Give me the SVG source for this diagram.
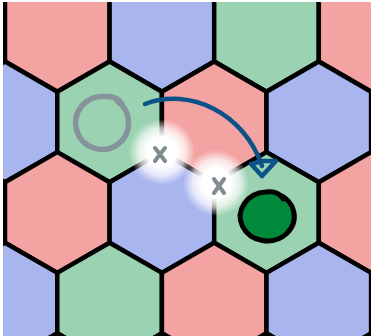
<svg xmlns="http://www.w3.org/2000/svg" width="371" height="336" viewBox="0 0 371 336">
  <style>
    .hex { stroke: #000; stroke-width: 4.5; stroke-linejoin: round; }
    .red { fill: #f4a3a3; }
    .blue { fill: #a9b5ef; }
    .green { fill: #9bd3b2; }
    .xmark { fill: none; stroke: #7f8c90; stroke-width: 4; stroke-linecap: round; }
  </style>
  <defs>
    <clipPath id="board">
      <rect x="3" y="2" width="368" height="334"/>
    </clipPath>
    <radialGradient id="glow">
      <stop offset="0" stop-color="#fff" stop-opacity="1"/>
      <stop offset="0.45" stop-color="#fff" stop-opacity="1"/>
      <stop offset="0.72" stop-color="#fff" stop-opacity="0.7"/>
      <stop offset="1" stop-color="#fff" stop-opacity="0"/>
    </radialGradient>
  </defs>

  <rect width="371" height="336" fill="#fff"/>

  <g clip-path="url(#board)">
    <!-- row above the top edge -->
    <g id="hex-r0-c0" class="hex blue"><polygon points="5,-119.7 57.3,-89.5 57.3,-29.1 5,1.1 -47.3,-29.1 -47.3,-89.5"/></g>
    <g id="hex-r0-c1" class="hex green"><polygon points="109.6,-119.7 161.9,-89.5 161.9,-29.1 109.6,1.1 57.3,-29.1 57.3,-89.5"/></g>
    <g id="hex-r0-c2" class="hex red"><polygon points="214.2,-119.7 266.5,-89.5 266.5,-29.1 214.2,1.1 161.9,-29.1 161.9,-89.5"/></g>
    <g id="hex-r0-c3" class="hex blue"><polygon points="318.8,-119.7 371.1,-89.5 371.1,-29.1 318.8,1.1 266.5,-29.1 266.5,-89.5"/></g>

    <!-- row 1 -->
    <g id="hex-r1-c0" class="hex red"><polygon points="57.3,-29.1 109.6,1.1 109.6,61.5 57.3,91.7 5,61.5 5,1.1"/></g>
    <g id="hex-r1-c1" class="hex blue"><polygon points="161.9,-29.1 214.2,1.1 214.2,61.5 161.9,91.7 109.6,61.5 109.6,1.1"/></g>
    <g id="hex-r1-c2" class="hex green"><polygon points="266.5,-29.1 318.8,1.1 318.8,61.5 266.5,91.7 214.2,61.5 214.2,1.1"/></g>
    <g id="hex-r1-c3" class="hex red"><polygon points="371.1,-29.1 423.4,1.1 423.4,61.5 371.1,91.7 318.8,61.5 318.8,1.1"/></g>

    <!-- row 2 -->
    <g id="hex-r2-c0" class="hex blue"><polygon points="5,61.5 57.3,91.7 57.3,152.1 5,182.3 -47.3,152.1 -47.3,91.7"/></g>
    <g id="hex-start" class="hex green"><polygon points="109.6,61.5 161.9,91.7 161.9,152.1 109.6,182.3 57.3,152.1 57.3,91.7"/></g>
    <g id="hex-r2-c2" class="hex red"><polygon points="214.2,61.5 266.5,91.7 266.5,152.1 214.2,182.3 161.9,152.1 161.9,91.7"/></g>
    <g id="hex-r2-c3" class="hex blue"><polygon points="318.8,61.5 371.1,91.7 371.1,152.1 318.8,182.3 266.5,152.1 266.5,91.7"/></g>

    <!-- row 3 -->
    <g id="hex-r3-c0" class="hex red"><polygon points="57.3,152.1 109.6,182.3 109.6,242.7 57.3,272.9 5,242.7 5,182.3"/></g>
    <g id="hex-r3-c1" class="hex blue"><polygon points="161.9,152.1 214.2,182.3 214.2,242.7 161.9,272.9 109.6,242.7 109.6,182.3"/></g>
    <g id="hex-goal" class="hex green"><polygon points="266.5,152.1 318.8,182.3 318.8,242.7 266.5,272.9 214.2,242.7 214.2,182.3"/></g>
    <g id="hex-r3-c3" class="hex red"><polygon points="371.1,152.1 423.4,182.3 423.4,242.7 371.1,272.9 318.8,242.7 318.8,182.3"/></g>

    <!-- row 4 -->
    <g id="hex-r4-c0" class="hex blue"><polygon points="5,242.7 57.3,272.9 57.3,333.3 5,363.5 -47.3,333.3 -47.3,272.9"/></g>
    <g id="hex-r4-c1" class="hex green"><polygon points="109.6,242.7 161.9,272.9 161.9,333.3 109.6,363.5 57.3,333.3 57.3,272.9"/></g>
    <g id="hex-r4-c2" class="hex red"><polygon points="214.2,242.7 266.5,272.9 266.5,333.3 214.2,363.5 161.9,333.3 161.9,272.9"/></g>
    <g id="hex-r4-c3" class="hex blue"><polygon points="318.8,242.7 371.1,272.9 371.1,333.3 318.8,363.5 266.5,333.3 266.5,272.9"/></g>

    <!-- row below the bottom edge -->
    <g id="hex-r5-c0" class="hex red"><polygon points="57.3,333.3 109.6,363.5 109.6,423.9 57.3,454.1 5,423.9 5,363.5"/></g>
    <g id="hex-r5-c1" class="hex blue"><polygon points="161.9,333.3 214.2,363.5 214.2,423.9 161.9,454.1 109.6,423.9 109.6,363.5"/></g>
    <g id="hex-r5-c2" class="hex green"><polygon points="266.5,333.3 318.8,363.5 318.8,423.9 266.5,454.1 214.2,423.9 214.2,363.5"/></g>
  </g>

  <!-- blocked corners: glow with a cross -->
  <g id="block-1">
    <circle cx="162" cy="152" r="33" fill="url(#glow)"/>
    <path class="xmark" d="M155,148 Q160,154 165,161 M165,148 Q160,154 155,161"/>
  </g>
  <g id="block-2">
    <circle cx="216" cy="183" r="33" fill="url(#glow)"/>
    <path class="xmark" d="M214,179 Q219,186 224,193 M224,179 Q219,186 214,193"/>
  </g>

  <!-- start token -->
  <g id="start-token">
    <path d="M117,101 A26.5,26.5 0 1,1 104,96.5 C111,96 118,97 122,104" fill="none" stroke="#86939a" stroke-width="5.5" stroke-linecap="round"/>
  </g>

  <!-- goal token -->
  <g id="goal-token">
    <path d="M278,194 A27,24.5 0 1,1 266,192 C273,191 280,193 283,199" fill="#00893a" stroke="#000" stroke-width="5" stroke-linecap="round" stroke-linejoin="round"/>
  </g>

  <!-- connectors -->
  <g id="connectors" fill="none" stroke="#0b5288" stroke-width="4.5" stroke-linecap="round" stroke-linejoin="round">
    <path d="M145,104 C190,87 244,113 262,166"/>
    <path d="M263,161 L251,164 L262,176 L276,161 Z"/>
  </g>
</svg>
